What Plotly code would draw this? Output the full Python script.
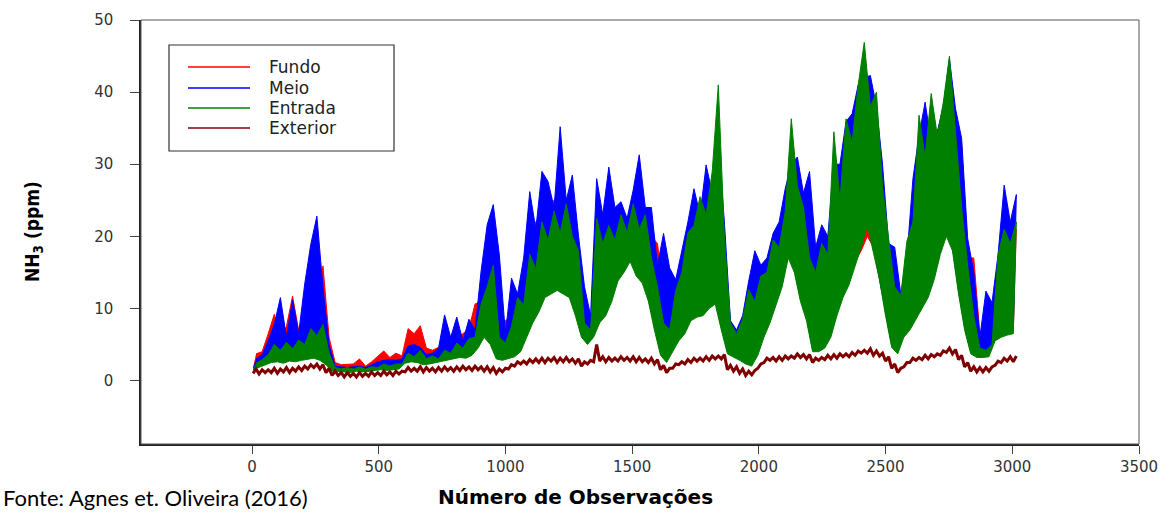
import plotly.graph_objects as go

# NH3 concentration (ppm) by observation number, summarised per block of
# 24 observations: the low and the high reading of each block.
fundo_hi = [3.7, 4.0, 6.5, 9.2, 6.0, 7.5, 11.7, 7.0, 8.5, 12.0, 9.0, 15.9,
            6.0, 2.5, 2.2, 2.2, 2.3, 3.0, 2.0, 2.6, 3.4, 4.1, 3.2, 3.8,
            3.4, 7.2, 6.5, 7.6, 4.5, 4.2, 4.6, 5.0, 5.5, 6.0, 6.5, 7.2,
            10.6, 11.0, 14.0, 13.0, 8.0, 8.3, 9.0, 12.0, 14.0, 20.0, 22.0, 23.0,
            24.0, 25.0, 26.0, 24.5, 24.0, 18.0, 10.0, 8.0, 20.0, 17.5, 18.0, 20.0,
            22.0, 22.5, 24.0, 23.0, 22.0, 20.0, 19.0, 12.0, 10.0, 10.0, 15.0, 18.0,
            22.0, 22.0, 24.0, 26.0, 28.0, 18.0, 8.0, 7.0, 8.0, 10.0, 12.0, 13.0,
            15.0, 18.0, 20.0, 22.0, 25.0, 24.0, 22.0, 18.0, 14.0, 16.0, 18.0, 24.0,
            24.0, 28.0, 30.0, 30.0, 30.0, 28.0, 26.0, 24.0, 18.0, 12.0, 10.0, 14.0,
            20.0, 26.0, 28.0, 28.0, 28.0, 30.0, 30.0, 29.0, 33.0, 17.0, 17.0, 6.5,
            6.0, 6.5, 12.0, 20.0, 20.0, 21.0]
fundo_lo = [1.8, 2.1, 2.6, 3.0, 3.1, 3.0, 3.2, 3.1, 3.3, 3.5, 3.6, 3.3,
            2.6, 1.5, 1.4, 1.4, 1.4, 1.5, 1.4, 1.4, 1.6, 1.8, 1.7, 1.8,
            1.9, 2.9, 3.0, 3.0, 2.6, 2.7, 2.8, 3.0, 3.2, 3.4, 3.6, 3.5,
            4.0, 5.0, 6.5, 5.5, 3.5, 3.3, 3.5, 3.8, 4.5, 6.5, 8.5, 10.0,
            12.0, 12.5, 13.0, 12.5, 12.0, 9.5, 6.5, 5.5, 6.5, 8.5, 9.5, 11.5,
            14.3, 15.5, 17.0, 15.0, 14.0, 11.5, 7.5, 4.0, 3.0, 4.5, 6.0, 7.0,
            8.8, 9.3, 9.5, 10.5, 11.1, 7.5, 4.2, 3.7, 3.3, 2.8, 2.5, 4.0,
            6.5, 8.5, 11.1, 13.5, 17.5, 15.5, 11.5, 8.8, 4.5, 4.5, 5.0, 6.5,
            9.5, 12.0, 13.8, 16.5, 18.0, 20.0, 18.5, 14.5, 9.5, 5.1, 4.2, 6.5,
            7.5, 9.0, 10.5, 12.0, 14.5, 18.0, 20.5, 18.5, 12.5, 7.5, 4.2, 3.7,
            3.7, 3.8, 6.0, 6.5, 6.8, 7.0]

meio_hi = [3.0, 3.6, 5.5, 7.8, 11.5, 6.0, 11.2, 6.5, 13.4, 18.9, 22.8, 12.9,
           5.0, 2.0, 1.9, 1.8, 1.9, 2.0, 1.8, 2.2, 2.6, 2.8, 2.9, 2.8,
           3.0, 4.8, 5.0, 4.6, 3.6, 3.8, 4.5, 9.1, 6.0, 8.8, 5.5, 8.5,
           7.0, 15.2, 21.6, 24.4, 17.4, 6.5, 14.2, 12.0, 17.0, 26.2, 21.0, 29.0,
           27.6, 24.0, 35.2, 25.0, 28.5, 20.2, 13.0, 9.0, 28.0, 23.0, 29.6, 24.0,
           24.8, 22.5, 26.4, 31.3, 24.0, 24.0, 16.0, 20.4, 15.6, 14.0, 18.0, 22.0,
           26.6, 23.0, 29.9, 26.0, 33.0, 22.0, 8.3, 7.0, 9.0, 13.8, 18.0, 16.0,
           17.0, 20.4, 22.0, 26.6, 30.0, 31.0, 26.0, 29.0, 18.5, 21.6, 20.0, 30.0,
           30.0, 35.9, 37.0, 41.0, 42.0, 42.3, 38.0, 30.0, 19.0, 18.5, 12.0, 17.0,
           28.0, 34.0, 38.6, 33.0, 34.5, 38.0, 44.6, 37.7, 33.6, 19.7, 15.0, 6.0,
           12.4, 10.8, 17.5, 27.1, 22.0, 25.8]
meio_lo = [1.7, 2.0, 2.5, 2.8, 2.9, 2.8, 3.0, 3.0, 3.1, 3.3, 3.4, 3.1,
           2.4, 1.4, 1.3, 1.3, 1.3, 1.4, 1.3, 1.3, 1.5, 1.7, 1.6, 1.7,
           1.8, 2.7, 2.9, 2.8, 2.5, 2.5, 2.6, 2.9, 3.1, 3.3, 3.5, 3.4,
           3.9, 5.0, 6.5, 5.5, 3.4, 3.1, 3.3, 3.7, 4.4, 6.5, 8.5, 10.0,
           12.0, 12.5, 13.0, 12.5, 12.0, 9.5, 6.5, 5.5, 6.5, 8.5, 9.5, 11.5,
           14.2, 15.5, 17.0, 15.0, 14.0, 11.5, 7.5, 3.9, 2.8, 4.4, 6.0, 7.0,
           8.8, 9.3, 9.5, 10.5, 11.0, 7.5, 4.0, 3.5, 3.1, 2.6, 2.3, 3.9,
           6.5, 8.5, 11.0, 13.5, 17.5, 15.5, 11.5, 8.8, 4.4, 4.4, 5.0, 6.5,
           9.5, 12.0, 13.8, 16.5, 19.0, 22.0, 18.5, 14.5, 9.5, 5.0, 4.0, 6.5,
           7.5, 9.0, 10.5, 12.0, 14.5, 18.0, 20.5, 18.5, 12.5, 7.5, 4.0, 3.5,
           3.5, 3.6, 6.0, 6.5, 6.8, 7.0]

entrada_hi = [2.4, 2.9, 3.6, 5.0, 4.2, 5.3, 4.4, 5.6, 5.0, 7.2, 6.2, 7.8,
              3.8, 1.8, 1.6, 1.8, 1.6, 1.9, 1.6, 1.9, 1.8, 2.3, 2.0, 2.3,
              2.3, 3.8, 3.3, 4.2, 3.0, 3.4, 3.0, 4.2, 3.8, 5.2, 4.5, 5.8,
              6.0, 10.6, 13.0, 16.0, 6.0, 5.2, 7.5, 11.5, 10.5, 17.5, 15.5, 22.0,
              19.5, 23.5, 20.5, 24.5, 20.0, 18.0, 8.0, 7.0, 22.5, 19.0, 21.5, 19.5,
              23.0, 20.5, 24.5, 21.0, 23.0, 17.0, 13.0, 8.0, 7.0, 12.5, 15.0, 20.5,
              21.5, 25.5, 23.0, 29.0, 41.0, 20.0, 8.0, 6.5, 8.5, 12.6, 11.0, 14.5,
              15.0, 19.5, 18.5, 23.4, 36.3, 27.0, 24.0, 17.0, 15.0, 19.0, 17.5, 34.5,
              25.0, 36.3, 33.0, 41.0, 46.9, 38.0, 40.0, 27.0, 19.7, 13.0, 11.8, 19.3,
              22.0, 36.8, 31.0, 39.8, 34.0, 38.6, 45.0, 35.0, 24.0, 16.0, 9.0, 4.5,
              4.2, 5.0, 17.5, 21.0, 19.0, 22.0]
entrada_lo = [1.5, 1.8, 2.2, 2.5, 2.6, 2.4, 2.7, 2.6, 2.8, 3.0, 3.1, 2.8,
              2.2, 1.3, 1.2, 1.2, 1.1, 1.3, 1.2, 1.2, 1.4, 1.5, 1.4, 1.5,
              1.6, 2.4, 2.6, 2.5, 2.2, 2.3, 2.4, 2.6, 2.8, 3.0, 3.2, 3.1,
              3.5, 4.5, 6.0, 5.0, 3.0, 2.8, 3.0, 3.3, 4.0, 6.0, 8.0, 9.5,
              11.5, 12.0, 12.5, 12.0, 11.5, 9.0, 6.0, 5.0, 6.0, 8.0, 9.0, 11.0,
              13.8, 15.0, 16.5, 14.5, 13.5, 11.0, 7.0, 3.5, 2.5, 4.0, 5.5, 6.5,
              8.3, 8.8, 9.0, 10.0, 10.6, 7.0, 3.7, 3.2, 2.8, 2.3, 2.0, 3.5,
              6.0, 8.0, 10.6, 13.0, 17.0, 15.0, 11.0, 8.3, 4.0, 4.0, 4.5, 6.0,
              9.0, 11.5, 13.3, 16.0, 18.5, 21.5, 18.0, 14.0, 9.0, 4.6, 3.7, 6.0,
              7.0, 8.5, 10.0, 11.5, 14.0, 17.5, 20.0, 18.0, 12.0, 7.0, 3.7, 3.2,
              3.2, 3.3, 5.5, 6.0, 6.3, 6.5]

exterior_a = [1.0, 0.9, 1.1, 1.1, 1.0, 1.2, 1.1, 1.3, 1.4, 1.6, 1.8, 1.6,
              1.1, 0.7, 0.7, 0.5, 0.6, 0.5, 0.6, 0.6, 0.7, 0.7, 0.8, 0.7,
              0.9, 1.2, 1.3, 1.3, 1.2, 1.3, 1.2, 1.3, 1.4, 1.3, 1.4, 1.5,
              1.4, 1.5, 1.3, 1.2, 1.0, 1.2, 1.6, 2.0, 2.3, 2.3, 2.5, 2.5,
              2.5, 2.7, 2.5, 2.6, 2.6, 2.4, 2.0, 2.3, 2.6, 2.7, 2.6, 2.7,
              2.7, 2.8, 2.7, 2.6, 2.6, 2.5, 2.3, 1.5, 1.1, 1.7, 2.2, 2.3,
              2.5, 2.7, 2.7, 2.8, 3.0, 3.0, 1.5, 1.3, 1.0, 0.7, 0.8, 1.7,
              2.5, 2.8, 2.7, 2.8, 3.0, 3.1, 3.2, 3.0, 2.5, 2.8, 2.9, 3.0,
              3.1, 3.3, 3.3, 3.5, 3.8, 3.8, 3.5, 3.4, 2.7, 1.7, 1.1, 1.9,
              2.5, 2.8, 2.9, 3.0, 3.3, 3.5, 3.9, 3.7, 2.9, 1.9, 1.3, 1.2,
              1.2, 1.3, 2.1, 2.5, 2.7, 2.6]
exterior_b = [1.6, 1.5, 1.5, 1.7, 1.6, 1.8, 1.7, 1.9, 2.0, 2.2, 2.3, 2.2,
              1.7, 1.3, 1.1, 1.1, 1.0, 1.1, 1.0, 1.2, 1.1, 1.3, 1.2, 1.3,
              1.3, 1.8, 1.7, 1.9, 1.8, 1.7, 1.8, 1.9, 1.8, 1.9, 2.0, 1.9,
              2.0, 1.9, 1.9, 1.8, 1.6, 1.7, 2.2, 2.6, 2.7, 2.9, 3.0, 3.1,
              3.1, 3.2, 3.1, 3.2, 3.0, 3.0, 2.6, 2.8, 5.0, 3.3, 3.2, 3.1,
              3.3, 3.2, 3.3, 3.2, 3.0, 3.1, 2.9, 2.1, 1.7, 2.3, 2.6, 2.9,
              3.1, 3.1, 3.3, 3.4, 3.4, 3.6, 2.1, 1.9, 1.6, 1.3, 1.4, 2.3,
              3.1, 3.2, 3.3, 3.4, 3.4, 3.7, 3.6, 3.6, 3.1, 3.2, 3.5, 3.6,
              3.7, 3.7, 3.9, 4.1, 4.2, 4.4, 4.1, 3.8, 3.3, 2.3, 1.7, 2.5,
              3.1, 3.2, 3.5, 3.6, 3.7, 4.1, 4.5, 4.3, 3.5, 2.5, 1.9, 1.8,
              1.8, 1.9, 2.7, 3.1, 3.3, 3.4]

series_names = ["Fundo", "Meio", "Entrada", "Exterior"]
x_ticks = [0, 500, 1000, 1500, 2000, 2500, 3000, 3500]
y_ticks = [0, 10, 20, 30, 40, 50]

# ---------------------------------------------------------------- layout
W, H = 1171, 513
M_L, M_R, M_T, M_B = 141, 32, 20, 69
PW, PH = W - M_L - M_R, H - M_T - M_B


def px_x(px):
    return (px - M_L) / PW


def px_y(py):
    return (H - M_B - py) / PH


colors = {"Fundo": "#ff0000", "Meio": "#0000ff",
          "Entrada": "#008000", "Exterior": "#800000"}

BLOCK = 24
n = len(entrada_hi)
x_lo = [BLOCK * k + 4 for k in range(n)]
x_hi = [BLOCK * k + 16 for k in range(n)]

fig = go.Figure()


def add_band(name, lo, hi):
    # closed outline: highs left to right, then lows right to left
    xs = x_hi + x_lo[::-1]
    ys = hi + lo[::-1]
    fig.add_trace(go.Scatter(
        x=xs, y=ys, mode="lines", name=name, fill="toself",
        fillcolor=colors[name], line=dict(color=colors[name], width=1),
        showlegend=False, hoverinfo="skip"))


add_band("Fundo", fundo_lo, fundo_hi)
add_band("Meio", meio_lo, meio_hi)
add_band("Entrada", entrada_lo, entrada_hi)

ext_x, ext_y = [], []
for k in range(n):
    ext_x += [x_lo[k], x_hi[k]]
    ext_y += [exterior_a[k], exterior_b[k]]
fig.add_trace(go.Scatter(
    x=ext_x, y=ext_y, mode="lines", name="Exterior",
    line=dict(color=colors["Exterior"], width=3),
    showlegend=False, hoverinfo="skip"))

tick_font = dict(family="DejaVu Sans, Arial", size=15, color="#333333")

fig.update_xaxes(
    range=[-438, 3500], tickvals=x_ticks, ticks="outside", ticklen=8,
    tickcolor="#444444", tickwidth=1, showline=True, linecolor="#222222",
    linewidth=1.5, showgrid=False, zeroline=False, tickfont=tick_font)
fig.update_yaxes(
    range=[-8.8, 50], tickvals=y_ticks, ticks="outside", ticklen=9,
    tickcolor="#444444", tickwidth=1, showline=True, linecolor="#222222",
    linewidth=1.5, showgrid=False, zeroline=False, tickfont=tick_font,
    ticklabelstandoff=14)

shapes = [
    # frame around the plotting area
    dict(type="rect", xref="paper", yref="paper", x0=0, y0=0, x1=1, y1=1,
         line=dict(color="#555555", width=1)),
    # legend box
    dict(type="rect", xref="paper", yref="paper",
         x0=px_x(169), x1=px_x(394), y0=px_y(151), y1=px_y(45),
         line=dict(color="#333333", width=1.2), fillcolor="white"),
]
annotations = []
legend_rows = [67, 88, 108, 128]
for name, row in zip(series_names, legend_rows):
    shapes.append(dict(type="line", xref="paper", yref="paper",
                       x0=px_x(188), x1=px_x(250), y0=px_y(row), y1=px_y(row),
                       line=dict(color=colors[name], width=1.3)))
    annotations.append(dict(
        text=name, xref="paper", yref="paper", x=px_x(267), y=px_y(row),
        xanchor="left", yanchor="middle", showarrow=False,
        font=dict(family="DejaVu Sans, Arial", size=17, color="#222222")))

annotations += [
    dict(text="NH<sub>3</sub> (ppm)", xref="paper", yref="paper",
         x=px_x(33), y=px_y(232), textangle=-90, showarrow=False,
         xanchor="center", yanchor="middle",
         font=dict(family="Liberation Sans Narrow, DejaVu Sans Condensed, Arial Narrow",
                   size=19, color="black", weight="bold")),
    dict(text="Número de Observações", xref="paper", yref="paper",
         x=px_x(575), y=px_y(497), showarrow=False,
         xanchor="center", yanchor="middle",
         font=dict(family="DejaVu Sans, Arial Black", size=20, color="black",
                   weight="bold")),
    dict(text="Fonte: Agnes et. Oliveira (2016)", xref="paper", yref="paper",
         x=px_x(1), y=px_y(498), showarrow=False,
         xanchor="left", yanchor="middle",
         font=dict(family="Lato, Carlito, Open Sans", size=22, color="black")),
]

fig.update_layout(
    width=W, height=H,
    margin=dict(l=M_L, r=M_R, t=M_T, b=M_B),
    paper_bgcolor="white", plot_bgcolor="white",
    showlegend=False, shapes=shapes, annotations=annotations,
)

fig.write_html("out.html")
